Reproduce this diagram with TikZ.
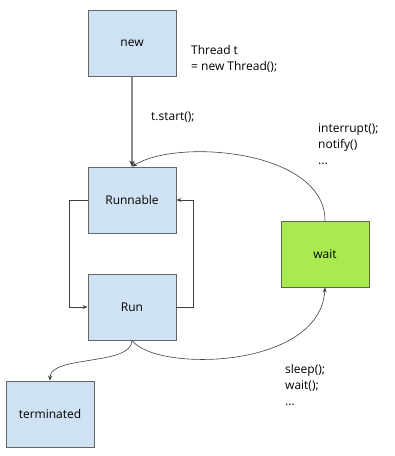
\documentclass[tikz,border=0pt]{standalone}
\usepackage{fontspec}
\setmainfont{Open Sans}
\usetikzlibrary{arrows.meta}
\definecolor{boxblue}{HTML}{CFE2F3}
\definecolor{boxgreen}{HTML}{A9EA4F}
\definecolor{edgegray}{HTML}{666666}
\definecolor{greenedge}{HTML}{5B6B3E}
\tikzset{
  statebox/.style={draw=edgegray, line width=0.8pt, fill=boxblue, minimum width=88pt, minimum height=66pt, inner sep=0pt, font=\fontsize{12}{16}\selectfont},
  greenbox/.style={statebox, fill=boxgreen, draw=greenedge},
  lbl/.style={anchor=north west, inner sep=0pt, align=left, font=\fontsize{12}{16}\selectfont},
  conn/.style={draw=black!75, line width=0.6pt, -{Stealth[length=5pt,width=4pt]}},
  thick conn/.style={draw=black!45, line width=1.6pt, -{Stealth[length=6pt,width=5pt,color=black!80]}}
}
\begin{document}
\begin{tikzpicture}[x=1pt,y=-1pt]
\useasboundingbox[fill=white] (0,0) rectangle (395,456);
\node[statebox] (new) at (132,43.5) {new};
\node[statebox] (runnable) at (132,200) {Runnable};
\node[statebox] (run) at (132,307) {Run};
\node[statebox] (term) at (50,414) {terminated};
\node[greenbox] (wait) at (325,254) {wait};

\node[lbl] (l1) at (191,45) {Thread t\\= new Thread();};
\node[lbl] (l2) at (151,112) {t.start();};
\node[lbl] (l3) at (318,123) {interrupt();\\notify()\\...};
\node[lbl] (l4) at (285,364) {sleep();\\wait();\\...};

\draw[thick conn] (new) -- (runnable);
\draw[conn] (runnable.west) -- ++(-18,0) |- (run.west);
\draw[conn] (run.east) -- ++(17,0) |- (runnable.east);
\draw[conn] (wait.north) .. controls (325,150) and (178,138) .. (runnable.north);
\draw[conn] (run.south) .. controls (155,372) and (320,370) .. (wait.south);
\draw[conn] (run.south) .. controls (132,366) and (50,355) .. (term.north);
\end{tikzpicture}
\end{document}
